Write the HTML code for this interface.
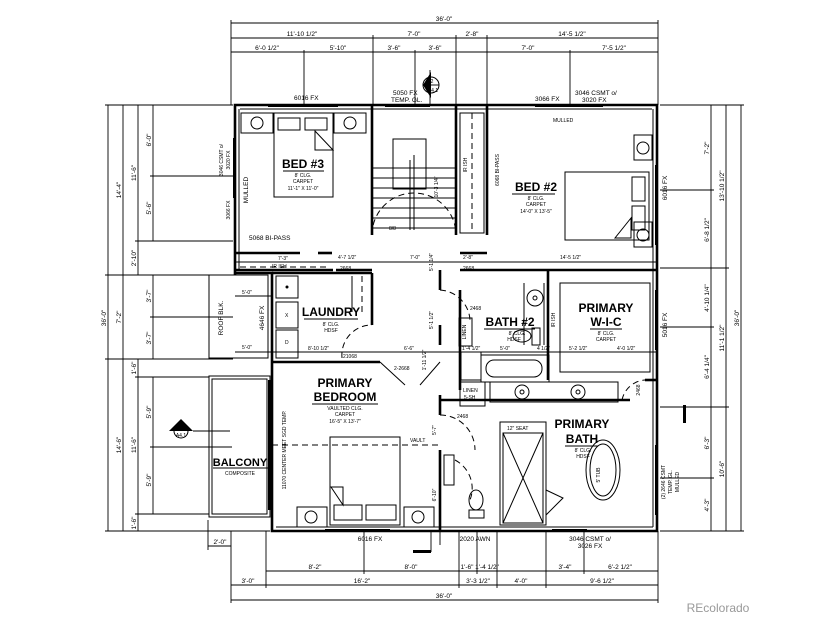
<!DOCTYPE html>
<html><head><meta charset="utf-8"><style>
html,body{margin:0;padding:0;background:#fff;}
svg{display:block;font-family:"Liberation Sans",sans-serif;}
.w{stroke:#000;stroke-width:2.6;fill:none}
.t{stroke:#000;stroke-width:1;fill:none}
.d{stroke:#000;stroke-width:0.9;fill:none}
.ds{stroke:#000;stroke-width:1;fill:none;stroke-dasharray:6 4}
text{fill:#000}
.s{font-size:6.5px}
.xs{font-size:5px}
.L{font-size:12px;font-weight:bold}
</style></head><body>
<svg width="825" height="619" viewBox="0 0 825 619" xmlns="http://www.w3.org/2000/svg">
<!-- TOP DIMENSIONS -->
<g class="d">
<line x1="231" y1="23" x2="658" y2="23"/>
<line x1="231" y1="38" x2="658" y2="38"/>
<line x1="231" y1="52" x2="658" y2="52"/>
<line x1="231" y1="20" x2="231" y2="105"/><line x1="658" y1="20" x2="658" y2="105"/>
<line x1="373" y1="35" x2="373" y2="105"/><line x1="456" y1="35" x2="456" y2="105"/>
<line x1="487" y1="35" x2="487" y2="105"/><line x1="304" y1="50" x2="304" y2="105"/>
<line x1="415" y1="50" x2="415" y2="105"/><line x1="570" y1="50" x2="570" y2="105"/>
<line x1="430" y1="70" x2="430" y2="105"/>
</g>
<text class="s" x="444" y="21" text-anchor="middle">36'-0"</text>
<text class="s" x="302" y="36" text-anchor="middle">11'-10 1/2"</text>
<text class="s" x="414" y="36" text-anchor="middle">7'-0"</text>
<text class="s" x="472" y="36" text-anchor="middle">2'-8"</text>
<text class="s" x="572" y="36" text-anchor="middle">14'-5 1/2"</text>
<text class="s" x="267" y="50" text-anchor="middle">6'-0 1/2"</text>
<text class="s" x="338" y="50" text-anchor="middle">5'-10"</text>
<text class="s" x="394" y="50" text-anchor="middle">3'-6"</text>
<text class="s" x="435" y="50" text-anchor="middle">3'-6"</text>
<text class="s" x="528" y="50" text-anchor="middle">7'-0"</text>
<text class="s" x="614" y="50" text-anchor="middle">7'-5 1/2"</text>
<circle cx="431" cy="85" r="8" class="t"/><path d="M423 85 L431 72 L431 98 Z" fill="#000"/>
<line x1="423" y1="85" x2="439" y2="85" class="d"/>
<text class="xs" x="432" y="83" text-anchor="middle">2</text><text class="xs" x="433" y="92" text-anchor="middle">A4.1</text>
<text class="s" x="294" y="100">6016 FX</text>
<text class="s" x="393" y="95">5050 FX</text><text class="s" x="391" y="102">TEMP. GL.</text>
<text class="s" x="535" y="101">3066 FX</text><text class="s" x="575" y="95">3046 CSMT o/</text><text class="s" x="582" y="102">3020 FX</text>

<!-- LEFT DIMENSIONS -->
<g class="d">
<line x1="108" y1="105" x2="108" y2="531"/>
<line x1="123" y1="105" x2="123" y2="531"/>
<line x1="138" y1="105" x2="138" y2="275"/><line x1="138" y1="359" x2="138" y2="531"/>
<line x1="153" y1="105" x2="153" y2="241"/><line x1="153" y1="275" x2="153" y2="359"/><line x1="153" y1="377" x2="153" y2="514"/>
<line x1="105" y1="105" x2="233" y2="105"/><line x1="150" y1="176" x2="233" y2="176"/>
<line x1="135" y1="241" x2="233" y2="241"/><line x1="105" y1="275" x2="233" y2="275"/>
<line x1="150" y1="317" x2="233" y2="317"/><line x1="105" y1="359" x2="233" y2="359"/>
<line x1="135" y1="377" x2="209" y2="377"/><line x1="150" y1="447" x2="230" y2="447"/>
<line x1="135" y1="514" x2="209" y2="514"/><line x1="105" y1="531" x2="270" y2="531"/>
</g>
<g class="s">
<text transform="translate(106,318) rotate(-90)" text-anchor="middle">36'-0"</text>
<text transform="translate(121,190) rotate(-90)" text-anchor="middle">14'-4"</text>
<text transform="translate(121,317) rotate(-90)" text-anchor="middle">7'-2"</text>
<text transform="translate(121,445) rotate(-90)" text-anchor="middle">14'-6"</text>
<text transform="translate(136,173) rotate(-90)" text-anchor="middle">11'-6"</text>
<text transform="translate(136,258) rotate(-90)" text-anchor="middle">2'-10"</text>
<text transform="translate(136,368) rotate(-90)" text-anchor="middle">1'-6"</text>
<text transform="translate(136,445) rotate(-90)" text-anchor="middle">11'-6"</text>
<text transform="translate(136,523) rotate(-90)" text-anchor="middle">1'-6"</text>
<text transform="translate(151,140) rotate(-90)" text-anchor="middle">6'-0"</text>
<text transform="translate(151,208) rotate(-90)" text-anchor="middle">5'-6"</text>
<text transform="translate(151,296) rotate(-90)" text-anchor="middle">3'-7"</text>
<text transform="translate(151,338) rotate(-90)" text-anchor="middle">3'-7"</text>
<text transform="translate(151,412) rotate(-90)" text-anchor="middle">5'-9"</text>
<text transform="translate(151,480) rotate(-90)" text-anchor="middle">5'-9"</text>
</g>

<!-- RIGHT DIMENSIONS -->
<g class="d">
<line x1="711" y1="105" x2="711" y2="531"/><line x1="726" y1="105" x2="726" y2="531"/><line x1="741" y1="105" x2="741" y2="531"/>
<line x1="660" y1="105" x2="744" y2="105"/><line x1="660" y1="190" x2="714" y2="190"/>
<line x1="660" y1="268" x2="729" y2="268"/><line x1="660" y1="327" x2="714" y2="327"/>
<line x1="660" y1="407" x2="729" y2="407"/><line x1="660" y1="478" x2="714" y2="478"/>
<line x1="660" y1="531" x2="744" y2="531"/>
</g>
<rect x="683" y="405" width="3" height="18" fill="#000"/>
<g class="s">
<text transform="translate(709,148) rotate(-90)" text-anchor="middle">7'-2"</text>
<text transform="translate(709,230) rotate(-90)" text-anchor="middle">6'-8 1/2"</text>
<text transform="translate(709,298) rotate(-90)" text-anchor="middle">4'-10 1/4"</text>
<text transform="translate(709,367) rotate(-90)" text-anchor="middle">6'-4 1/4"</text>
<text transform="translate(709,443) rotate(-90)" text-anchor="middle">6'-3"</text>
<text transform="translate(709,505) rotate(-90)" text-anchor="middle">4'-3"</text>
<text transform="translate(724,186) rotate(-90)" text-anchor="middle">13'-10 1/2"</text>
<text transform="translate(724,338) rotate(-90)" text-anchor="middle">11'-1 1/2"</text>
<text transform="translate(724,469) rotate(-90)" text-anchor="middle">10'-6"</text>
<text transform="translate(739,318) rotate(-90)" text-anchor="middle">36'-0"</text>
<text transform="translate(667,188) rotate(-90)" text-anchor="middle">6016 FX</text>
<text transform="translate(667,325) rotate(-90)" text-anchor="middle">5016 FX</text>
<text class="xs" transform="translate(665,482) rotate(-90)" text-anchor="middle">(2) 2646 CSMT</text>
<text class="xs" transform="translate(672,482) rotate(-90)" text-anchor="middle">TEMP. GL.</text>
<text class="xs" transform="translate(679,482) rotate(-90)" text-anchor="middle">MULLED</text>
</g>

<!-- BOTTOM DIMENSIONS -->
<g class="d">
<line x1="266" y1="571" x2="658" y2="571"/><line x1="231" y1="585" x2="658" y2="585"/><line x1="231" y1="600" x2="658" y2="600"/>
<line x1="208" y1="546" x2="231" y2="546"/>
<line x1="231" y1="531" x2="231" y2="603"/><line x1="658" y1="531" x2="658" y2="603"/>
<line x1="208" y1="520" x2="208" y2="550"/>
<line x1="266" y1="531" x2="266" y2="588"/><line x1="364" y1="531" x2="364" y2="574"/>
<line x1="459" y1="531" x2="459" y2="588"/><line x1="477" y1="531" x2="477" y2="574"/>
<line x1="497" y1="531" x2="497" y2="588"/><line x1="546" y1="531" x2="546" y2="588"/>
<line x1="584" y1="531" x2="584" y2="574"/><line x1="440" y1="531" x2="440" y2="545"/>
</g>
<rect x="413" y="550" width="18" height="3" fill="#000"/><line x1="431" y1="531" x2="431" y2="552" class="d"/>
<g class="s" text-anchor="middle">
<text x="220" y="544">2'-0"</text>
<text x="315" y="569">8'-2"</text><text x="411" y="569">8'-0"</text>
<text x="467" y="569">1'-6"</text><text x="487" y="569">1'-4 1/2"</text>
<text x="565" y="569">3'-4"</text><text x="620" y="569">6'-2 1/2"</text>
<text x="248" y="583">3'-0"</text><text x="362" y="583">16'-2"</text>
<text x="478" y="583">3'-3 1/2"</text><text x="521" y="583">4'-0"</text><text x="602" y="583">9'-6 1/2"</text>
<text x="444" y="598">36'-0"</text>
<text x="370" y="541">6016 FX</text><text x="475" y="541">2020 AWN</text>
<text x="590" y="541">3046 CSMT o/</text><text x="590" y="548">3026 FX</text>
</g>

<!-- OUTER WALLS -->
<g class="w">
<polyline points="235,275 235,105 657,105 657,531 272,531 272,362"/>
<polyline points="272,362 272,273 235,273"/>
</g>
<!-- windows (inner lines) -->
<g class="t">
<line x1="240" y1="109" x2="652" y2="109"/>
<line x1="239" y1="109" x2="239" y2="270"/>
<line x1="653" y1="109" x2="653" y2="527"/>
<line x1="276" y1="527" x2="653" y2="527"/>
</g>
<g fill="#000">
<rect x="268" y="104" width="70" height="3"/><rect x="385" y="104" width="45" height="3"/>
<rect x="535" y="104" width="68" height="3"/><rect x="655" y="165" width="3" height="80"/>
<rect x="655" y="290" width="3" height="60"/><rect x="655" y="445" width="3" height="70"/>
<rect x="233" y="138" width="3" height="60"/><rect x="325" y="529" width="65" height="3"/>
<rect x="552" y="529" width="35" height="3"/><rect x="268" y="380" width="3" height="130"/>
</g>
<!-- roof blk and balcony -->
<rect x="209" y="275" width="59" height="83" class="t"/>
<text class="s" transform="translate(223,318) rotate(-90)" text-anchor="middle">ROOF BLK.</text>
<text class="s" transform="translate(264,318) rotate(-90)" text-anchor="middle">4646 FX</text>
<rect x="209" y="376" width="61" height="141" class="t"/><rect x="212" y="379" width="55" height="135" class="t"/>
<text class="L" x="240" y="466" text-anchor="middle" style="font-size:11px">BALCONY</text>
<line x1="213" y1="468" x2="268" y2="468" class="d"/>
<text class="xs" x="240" y="475" text-anchor="middle">COMPOSITE</text>
<path d="M169 431 L181 419 L193 431 Z" fill="#000"/><circle cx="181" cy="431" r="7" class="t" fill="#fff"/>
<line x1="193" y1="431" x2="230" y2="431" class="d"/>
<text class="xs" x="181" y="430" text-anchor="middle">1</text><text class="xs" x="181" y="437" text-anchor="middle">A4.1</text>
<line x1="196" y1="447" x2="232" y2="447" class="d"/>

<!-- INTERIOR WALLS -->
<g class="w">
<line x1="235" y1="253" x2="300" y2="253"/><line x1="318" y1="253" x2="332" y2="253"/>
<line x1="372" y1="105" x2="372" y2="235"/>
<line x1="456" y1="105" x2="456" y2="235"/>
<line x1="487" y1="105" x2="487" y2="235"/>
<line x1="336" y1="270" x2="372" y2="270"/><line x1="235" y1="270" x2="333" y2="270"/>
<line x1="372" y1="273" x2="372" y2="325"/><line x1="272" y1="273" x2="372" y2="273"/>
<line x1="272" y1="362" x2="380" y2="362"/>
<line x1="440" y1="270" x2="440" y2="290"/><line x1="440" y1="325" x2="440" y2="345"/>
<line x1="440" y1="395" x2="440" y2="415"/><line x1="440" y1="450" x2="440" y2="531"/>
<line x1="460" y1="270" x2="657" y2="270"/><line x1="460" y1="253" x2="487" y2="253"/>
<line x1="548" y1="270" x2="548" y2="380"/>
<line x1="440" y1="400" x2="630" y2="400"/><line x1="657" y1="380" x2="645" y2="380"/>
<line x1="460" y1="290" x2="460" y2="390"/>
</g>
<!-- bed3 -->
<rect x="241" y="113" width="32" height="20" class="t"/><circle cx="257" cy="123" r="6" class="t"/>
<rect x="334" y="113" width="32" height="20" class="t"/><circle cx="350" cy="123" r="6" class="t"/>
<rect x="274" y="113" width="59" height="84" class="t"/>
<rect x="278" y="118" width="22" height="12" class="t"/><rect x="305" y="118" width="22" height="12" class="t"/>
<path d="M315 131 L333 150 L315 150 Z" class="t"/>
<text class="L" x="303" y="168" text-anchor="middle">BED #3</text><line x1="283" y1="171" x2="324" y2="171" class="d"/>
<text class="xs" x="303" y="177" text-anchor="middle">8' CLG.</text><text class="xs" x="303" y="183" text-anchor="middle">CARPET</text>
<text class="xs" x="303" y="190" text-anchor="middle">11'-1" X 11'-0"</text>
<text class="s" transform="translate(248,190) rotate(-90)" text-anchor="middle">MULLED</text>
<text class="xs" transform="translate(223,160) rotate(-90)" text-anchor="middle">3046 CSMT o/</text>
<text class="xs" transform="translate(230,160) rotate(-90)" text-anchor="middle">3020 FX</text>
<text class="xs" transform="translate(230,210) rotate(-90)" text-anchor="middle">3066 FX</text>
<text class="s" x="249" y="240">5068 BI-PASS</text>
<text class="xs" x="278" y="260">7'-3"</text><text class="xs" x="272" y="268">IR ISH</text>
<line x1="240" y1="262" x2="330" y2="262" class="d"/><line x1="240" y1="267" x2="330" y2="267" class="ds"/>
<!-- stairs -->
<g class="t">
<rect x="393" y="139" width="33" height="50"/>
<line x1="372" y1="168" x2="456" y2="168"/><line x1="372" y1="178" x2="456" y2="178"/>
<line x1="372" y1="188" x2="456" y2="188"/><line x1="372" y1="198" x2="456" y2="198"/>
<line x1="372" y1="208" x2="456" y2="208"/><line x1="372" y1="218" x2="456" y2="218"/>
<line x1="372" y1="228" x2="456" y2="228"/>
<line x1="414" y1="155" x2="414" y2="230"/><line x1="410" y1="160" x2="410" y2="230"/>
</g>
<text class="xs" transform="translate(438,187) rotate(-90)" text-anchor="middle">10'-3 1/4"</text>
<text class="xs" x="389" y="230">8/8</text>
<path d="M372 235 A40 40 0 0 1 456 235" class="ds"/>
<text class="xs" x="338" y="259">4'-7 1/2"</text><text class="xs" x="410" y="259">7'-0"</text>
<text class="xs" x="463" y="259">2'-8"</text><text class="xs" x="560" y="259">14'-5 1/2"</text>
<line x1="235" y1="262" x2="657" y2="262" class="d"/>
<text class="xs" x="340" y="270">2668</text><text class="xs" x="463" y="270">2668</text>
<text class="xs" transform="translate(433,262) rotate(-90)" text-anchor="middle">5'-1 1/4"</text>
<!-- bed2 -->
<rect x="460" y="113" width="24" height="120" class="t"/><line x1="472" y1="113" x2="472" y2="233" class="ds"/>
<text class="xs" transform="translate(467,165) rotate(-90)" text-anchor="middle">IR ISH</text>
<text class="xs" transform="translate(499,170) rotate(-90)" text-anchor="middle">6068 BI-PASS</text>
<text class="xs" x="553" y="122">MULLED</text>
<rect x="634" y="135" width="18" height="25" class="t"/><circle cx="643" cy="148" r="6" class="t"/>
<rect x="634" y="222" width="18" height="25" class="t"/><circle cx="643" cy="235" r="6" class="t"/>
<rect x="565" y="172" width="84" height="68" class="t"/>
<rect x="632" y="177" width="13" height="24" class="t"/><rect x="632" y="206" width="13" height="24" class="t"/>
<path d="M631 218 L615 238 L631 238 Z" class="t"/>
<text class="L" x="536" y="191" text-anchor="middle">BED #2</text><line x1="512" y1="194" x2="555" y2="194" class="d"/>
<text class="xs" x="536" y="200" text-anchor="middle">8' CLG.</text><text class="xs" x="536" y="206" text-anchor="middle">CARPET</text>
<text class="xs" x="536" y="213" text-anchor="middle">14'-0" X 13'-5"</text>
<!-- laundry -->
<rect x="276" y="276" width="22" height="22" class="t"/><circle cx="287" cy="287" r="1.5" fill="#000"/>
<rect x="276" y="302" width="22" height="26" class="t"/><text class="xs" x="285" y="317">X</text>
<rect x="276" y="330" width="22" height="28" class="t"/><text class="xs" x="285" y="344">D</text>
<line x1="362" y1="276" x2="362" y2="312" class="ds"/><line x1="352" y1="276" x2="352" y2="312" class="t"/>
<text class="L" x="331" y="316" text-anchor="middle">LAUNDRY</text><line x1="304" y1="319" x2="358" y2="319" class="d"/>
<text class="xs" x="331" y="326" text-anchor="middle">8' CLG.</text><text class="xs" x="331" y="332" text-anchor="middle">HDSF</text>
<path d="M342 358 A30 30 0 0 1 372 325" class="ds"/>
<line x1="235" y1="352" x2="657" y2="352" class="d"/>
<text class="xs" x="242" y="349">5'-0"</text><text class="xs" x="242" y="294">5'-0"</text>
<line x1="235" y1="296" x2="272" y2="296" class="d"/>
<text class="xs" x="308" y="350">8'-10 1/2"</text><text class="xs" x="343" y="358">21068</text>
<text class="xs" x="404" y="350">6'-6"</text><text class="xs" x="394" y="370">2-2668</text>
<path d="M380 362 L405 385 M440 362 L420 385" class="t"/>
<text class="xs" transform="translate(433,320) rotate(-90)" text-anchor="middle">5'-1 1/2"</text>
<text class="xs" transform="translate(426,360) rotate(-90)" text-anchor="middle">1'-11 1/2"</text>
<!-- bath2 -->
<path d="M440 290 A32 32 0 0 1 470 320" class="ds"/><text class="xs" x="470" y="310">2468</text>
<circle cx="535" cy="298" r="8" class="t"/><circle cx="535" cy="298" r="2" class="t"/>
<line x1="524" y1="283" x2="524" y2="345" class="t"/><line x1="544" y1="283" x2="544" y2="345" class="t"/>
<text class="L" x="510" y="326" text-anchor="middle">BATH #2</text><line x1="484" y1="329" x2="535" y2="329" class="d"/>
<text class="xs" x="517" y="335" text-anchor="middle">8' CLG.</text><text class="xs" x="514" y="341" text-anchor="middle">HDSF</text>
<ellipse cx="522" cy="336" rx="9" ry="6" class="t"/><rect x="532" y="328" width="8" height="17" class="t"/>
<text class="xs" transform="translate(555,320) rotate(-90)" text-anchor="middle">IR ISH</text>
<rect x="459" y="318" width="13" height="28" class="t"/>
<text class="xs" transform="translate(466,332) rotate(-90)" text-anchor="middle">LINEN</text>
<rect x="461" y="352" width="20" height="28" class="t"/>
<rect x="481" y="355" width="68" height="27" class="t"/><rect x="486" y="360" width="56" height="17" rx="8" class="t"/>
<text class="xs" x="462" y="350">1'-4 1/2"</text><text class="xs" x="500" y="350">5'-0"</text><text class="xs" x="537" y="350">4 1/2"</text>
<text class="xs" x="569" y="350">5'-2 1/2"</text><text class="xs" x="617" y="350">4'-0 1/2"</text>
<!-- WIC -->
<path d="M560 283 L650 283 M560 283 L560 372 L650 372" class="ds"/><rect x="560" y="283" width="90" height="89" class="t"/>
<text class="L" x="606" y="312" text-anchor="middle">PRIMARY</text><text class="L" x="606" y="326" text-anchor="middle">W-I-C</text>
<line x1="590" y1="329" x2="622" y2="329" class="d"/>
<text class="xs" x="606" y="335" text-anchor="middle">8' CLG.</text><text class="xs" x="606" y="341" text-anchor="middle">CARPET</text>
<!-- vanity -->
<rect x="460" y="382" width="25" height="24" class="t"/><text class="xs" x="463" y="392">LINEN</text><text class="xs" x="464" y="399">5-SH</text>
<rect x="490" y="382" width="128" height="20" class="t"/>
<circle cx="522" cy="392" r="7" class="t"/><circle cx="522" cy="392" r="2" class="t"/>
<circle cx="578" cy="392" r="7" class="t"/><circle cx="578" cy="392" r="2" class="t"/>
<path d="M622 400 A25 25 0 0 1 645 380" class="ds"/>
<text class="xs" transform="translate(640,390) rotate(-90)" text-anchor="middle">2468</text>
<!-- primary bath -->
<path d="M440 415 A35 35 0 0 1 475 450" class="ds"/><text class="xs" x="457" y="418">2468</text>
<text class="L" x="582" y="428" text-anchor="middle">PRIMARY</text><text class="L" x="582" y="443" text-anchor="middle">BATH</text>
<line x1="565" y1="446" x2="598" y2="446" class="d"/>
<text class="xs" x="583" y="452" text-anchor="middle">8' CLG.</text><text class="xs" x="583" y="458" text-anchor="middle">HDSF</text>
<rect x="500" y="422" width="46" height="103" class="t"/><rect x="503" y="433" width="40" height="90" class="t"/>
<path d="M503 433 L543 523 M543 433 L503 523" class="t"/>
<text class="xs" x="507" y="430">12" SEAT</text>
<path d="M546 490 L563 498 L546 515" class="t"/>
<ellipse cx="603" cy="470" rx="17" ry="30" class="t"/><ellipse cx="603" cy="470" rx="13" ry="26" class="t"/>
<text class="xs" transform="translate(600,475) rotate(-90)" text-anchor="middle">5' TUB</text>
<rect x="444" y="455" width="10" height="30" class="t"/>
<path d="M455 460 A32 32 0 0 1 470 500" class="ds"/>
<ellipse cx="476" cy="500" rx="7" ry="10" class="t"/><rect x="469" y="510" width="15" height="8" class="t"/>
<!-- primary bedroom -->
<text class="L" x="345" y="387" text-anchor="middle">PRIMARY</text><text class="L" x="345" y="401" text-anchor="middle">BEDROOM</text>
<line x1="312" y1="404" x2="378" y2="404" class="d"/>
<text class="xs" x="345" y="410" text-anchor="middle">VAULTED CLG.</text><text class="xs" x="345" y="416" text-anchor="middle">CARPET</text>
<text class="xs" x="345" y="423" text-anchor="middle">16'-5" X 13'-7"</text>
<line x1="272" y1="445" x2="440" y2="445" class="ds"/><text class="xs" x="410" y="442">VAULT</text>
<rect x="330" y="437" width="70" height="88" class="t"/>
<path d="M331 487 L343 487 L343 505 Z" class="t"/><rect x="334" y="505" width="28" height="15" class="t"/><rect x="366" y="505" width="30" height="15" class="t"/>
<rect x="297" y="507" width="30" height="20" class="t"/><circle cx="311" cy="517" r="6" class="t"/>
<rect x="404" y="507" width="30" height="20" class="t"/><circle cx="418" cy="517" r="6" class="t"/>
<text class="xs" transform="translate(286,450) rotate(-90)" text-anchor="middle">11070 CENTER MEET SGD TEMP.</text>
<text class="xs" transform="translate(436,495) rotate(-90)" text-anchor="middle">6'-10"</text>
<text class="xs" transform="translate(436,430) rotate(-90)" text-anchor="middle">5'-7"</text>
<!-- watermark -->
<text x="718" y="612" text-anchor="middle" style="font-size:12px;fill:#999">REcolorado</text>
</svg>
</body></html>
